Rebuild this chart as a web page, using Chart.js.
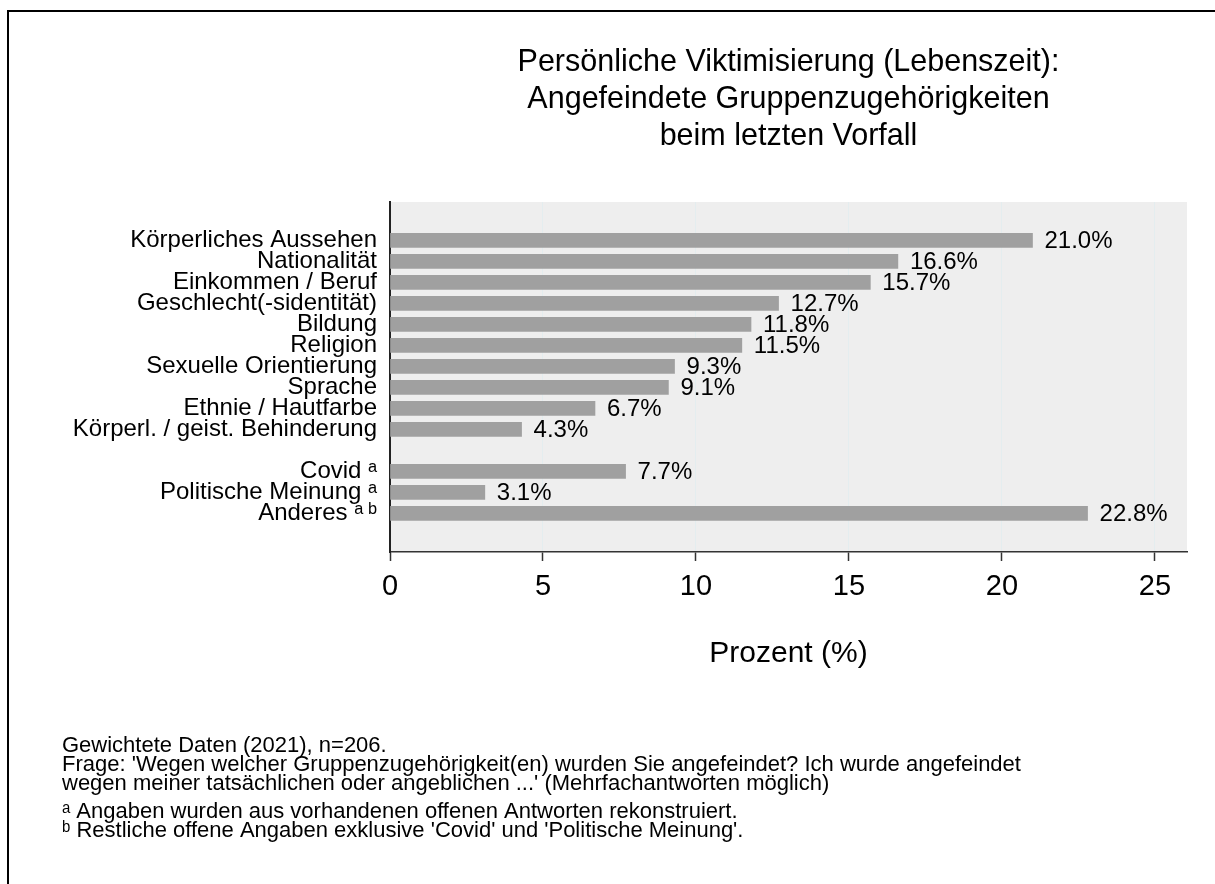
<!DOCTYPE html>
<html><head><meta charset="utf-8">
<script src="https://cdn.jsdelivr.net/npm/chart.js@4/dist/chart.umd.min.js"></script>
<style>html,body{margin:0;padding:0;background:#fff;overflow:hidden}#wrap{width:1215px;height:884px;position:relative}</style>
</head><body><div id="wrap"><canvas id="c" width="1215" height="884"></canvas></div>
<script>
const categories = ['Körperliches Aussehen','Nationalität','Einkommen / Beruf','Geschlecht(-sidentität)','Bildung','Religion','Sexuelle Orientierung','Sprache','Ethnie / Hautfarbe','Körperl. / geist. Behinderung','Covid ᵃ','Politische Meinung ᵃ','Anderes ᵃ\u2009ᵇ'];
const values = [21.0,16.6,15.7,12.7,11.8,11.5,9.3,9.1,6.7,4.3,7.7,3.1,22.8];
const rowPositions = [0,1,2,3,4,5,6,7,8,9,11,12,13];
const xTicks = [0,5,10,15,20,25];
const titleLines = ['Persönliche Viktimisierung (Lebenszeit):','Angefeindete Gruppenzugehörigkeiten','beim letzten Vorfall'];
const axisTitle = 'Prozent (%)';
const noteLines = [
  ['Gewichtete Daten (2021), n=206.', 0],
  ['Frage: \'Wegen welcher Gruppenzugehörigkeit(en) wurden Sie angefeindet? Ich wurde angefeindet', 0],
  ['wegen meiner tatsächlichen oder angeblichen ...\' (Mehrfachantworten möglich)', 0],
  ['ᵃ Angaben wurden aus vorhandenen offenen Antworten rekonstruiert.', 1],
  ['ᵇ Restliche offene Angaben exklusive \'Covid\' und \'Politische Meinung\'.', 1]
];
const FONT = '"Liberation Sans", Arial, Helvetica, sans-serif';

const labelByPos = {};
rowPositions.forEach((p,i)=>{ labelByPos[p] = categories[i]; });

const bgPlugin = {
  id:'bg',
  beforeDraw(chart){
    const {ctx, chartArea:a} = chart;
    ctx.save();
    ctx.fillStyle = '#fff';
    ctx.fillRect(0,0,chart.width,chart.height);
    ctx.fillStyle = '#eeeeee';
    ctx.fillRect(a.left, a.top, a.right-a.left, a.bottom-a.top);
    ctx.fillStyle = '#000';
    ctx.fillRect(7, 10, chart.width, 2);
    ctx.fillRect(7, 10, 2, chart.height);
    ctx.restore();
  },
  afterDraw(chart){
    const {ctx, chartArea:a} = chart;
    ctx.save();
    ctx.fillStyle = '#000';
    ctx.textAlign = 'center';
    ctx.textBaseline = 'middle';
    ctx.font = '30.5px ' + FONT;
    const cx = (a.left + a.right)/2;
    titleLines.forEach((t,i)=>ctx.fillText(t, cx, 63 + i*37));
    ctx.textAlign = 'left';
    ctx.font = '22px ' + FONT;
    let y = 746;
    noteLines.forEach((n,i)=>{
      if (i>0) y += 19 + (n[1] && !noteLines[i-1][1] ? 9 : 0);
      ctx.fillText(n[0], 62, y);
    });
    ctx.restore();
  },
  afterDatasetsDraw(chart){
    const {ctx} = chart;
    const meta = chart.getDatasetMeta(0);
    ctx.save();
    ctx.fillStyle = '#000';
    ctx.font = '24px ' + FONT;
    ctx.textAlign = 'left';
    ctx.textBaseline = 'middle';
    meta.data.forEach((bar,i)=>{
      ctx.fillText(values[i].toFixed(1)+'%', bar.x + 12, bar.y + 1);
    });
    ctx.restore();
  }
};

new Chart(document.getElementById('c'), {
  type:'bar',
  data:{
    datasets:[{
      data: values.map((v,i)=>({x:v, y:rowPositions[i]})),
      backgroundColor:'#a0a0a0',
      borderWidth:0,
      barThickness:14
    }]
  },
  options:{
    indexAxis:'y',
    responsive:false,
    animation:false,
    devicePixelRatio:1,
    layout:{padding:{top:202,right:28,left:0,bottom:204}},
    plugins:{legend:{display:false},tooltip:{enabled:false},title:{display:false}},
    scales:{
      x:{
        type:'linear',
        min:0, max:26.05,
        offset:false,
        afterBuildTicks(s){ s.ticks = xTicks.map(v=>({value:v})); },
        afterFit(s){ s.height = 128; },
        grid:{color:'#e4edef', lineWidth:1, drawTicks:true, tickLength:9, tickColor:'#333', tickWidth:1.5, offset:false},
        border:{display:true, color:'#333', width:1.5},
        ticks:{font:{family:FONT, size:29}, color:'#000', padding:9, maxRotation:0},
        title:{display:true, text:axisTitle, font:{family:FONT, size:30}, color:'#000', padding:{top:0,bottom:8}}
      },
      y:{
        type:'linear',
        reverse:true,
        offset:false,
        min:-1.824, max:14.843,
        afterBuildTicks(s){ s.ticks = rowPositions.map(v=>({value:v})); },
        afterFit(s){ s.width = 390; },
        grid:{display:false, drawTicks:false, offset:false},
        border:{display:true, color:'#222', width:2},
        ticks:{font:{family:FONT, size:24}, color:'#000', padding:13, autoSkip:false,
          callback(v){ return labelByPos[v] ?? ''; }}
      }
    }
  },
  plugins:[bgPlugin]
});
</script></body></html>
